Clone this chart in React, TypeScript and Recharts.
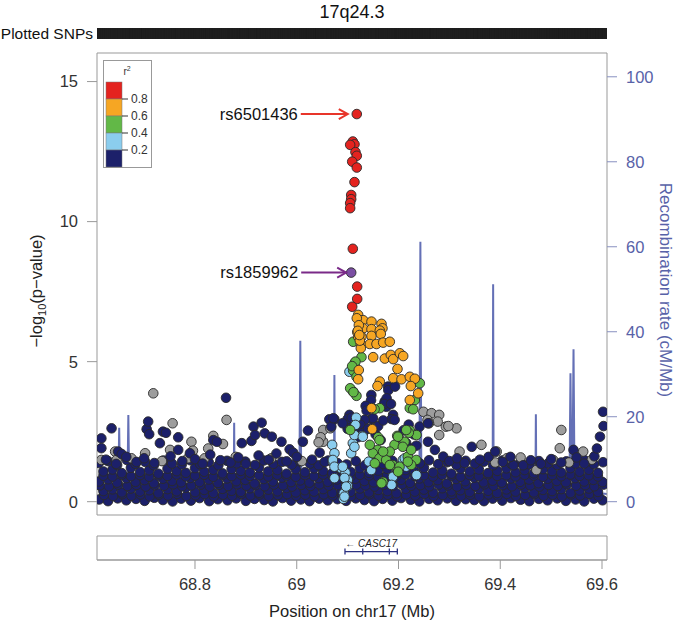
import { ComposedChart, Scatter, Line, XAxis, YAxis, ReferenceLine, ReferenceArea } from "recharts";

const FONT = "'Liberation Sans', Arial, Helvetica, sans-serif";

// axis ranges (Mb, -log10 p, cM/Mb)
const X_MIN = 68.6074;
const X_MAX = 69.6098;
const P_MIN = -0.475;
const P_MAX = 16.02;
const R_MIN = -3.13;
const R_MAX = 105.6;

const xTicks = [68.8, 69, 69.2, 69.4, 69.6];
const pTicks = [0, 5, 10, 15];
const rTicks = [0, 20, 40, 60, 80, 100];
const r2Labels = ["0.8", "0.6", "0.4", "0.2"];
const r2Colors = ["#e4231f", "#f6a623", "#62b847", "#8bcdee", "#1c206a"];

// [position Mb, -log10 p] - the dense low-significance mass
const navyBand: [number, number][] = [
  [68.612, 0.08], [68.629, 0.02], [68.648, 0.12], [68.665, 0.05], [68.684, 0.1], [68.701, 0.03], [68.72, 0.14], [68.737, 0.06],
  [68.756, 0.01], [68.773, 0.11], [68.792, 0.04], [68.809, 0.13], [68.828, 0.02], [68.845, 0.09], [68.864, 0.05], [68.881, 0.12],
  [68.9, 0.03], [68.917, 0.1], [68.936, 0.06], [68.953, 0.01], [68.972, 0.13], [68.989, 0.04], [69.008, 0.08], [69.025, 0.02],
  [69.044, 0.11], [69.061, 0.05], [69.08, 0.09], [69.097, 0.03], [69.116, 0.12], [69.133, 0.06], [69.152, 0.02], [69.169, 0.1],
  [69.188, 0.04], [69.205, 0.13], [69.224, 0.07], [69.241, 0.01], [69.26, 0.1], [69.277, 0.05], [69.296, 0.12], [69.313, 0.03],
  [69.332, 0.09], [69.349, 0.06], [69.368, 0.02], [69.385, 0.11], [69.404, 0.04], [69.421, 0.13], [69.44, 0.07], [69.457, 0.02],
  [69.476, 0.1], [69.493, 0.05], [69.512, 0.12], [69.529, 0.03], [69.548, 0.08], [69.565, 0.01], [69.584, 0.11], [69.601, 0.05],
  [68.621, 0.24], [68.639, 0.2], [68.657, 0.27], [68.675, 0.21], [68.693, 0.26], [68.711, 0.19], [68.729, 0.25], [68.747, 0.22],
  [68.765, 0.28], [68.783, 0.2], [68.801, 0.23], [68.819, 0.27], [68.837, 0.19], [68.855, 0.25], [68.873, 0.21], [68.891, 0.28],
  [68.909, 0.22], [68.927, 0.26], [68.945, 0.2], [68.963, 0.24], [68.981, 0.27], [68.999, 0.21], [69.017, 0.25], [69.035, 0.19],
  [69.053, 0.26], [69.071, 0.22], [69.089, 0.28], [69.107, 0.2], [69.125, 0.24], [69.143, 0.27], [69.161, 0.21], [69.179, 0.25],
  [69.197, 0.19], [69.215, 0.26], [69.233, 0.22], [69.251, 0.28], [69.269, 0.2], [69.287, 0.24], [69.305, 0.27], [69.323, 0.21],
  [69.341, 0.25], [69.359, 0.19], [69.377, 0.26], [69.395, 0.22], [69.413, 0.28], [69.431, 0.2], [69.449, 0.24], [69.467, 0.27],
  [69.485, 0.21], [69.503, 0.25], [69.521, 0.19], [69.539, 0.26], [69.557, 0.22], [69.575, 0.28], [69.593, 0.2],
  [68.62, 0.38], [68.638, 0.44], [68.656, 0.33], [68.674, 0.47], [68.692, 0.36], [68.71, 0.41], [68.728, 0.3], [68.746, 0.45],
  [68.764, 0.37], [68.782, 0.5], [68.8, 0.34], [68.818, 0.42], [68.836, 0.31], [68.854, 0.46], [68.872, 0.39], [68.89, 0.35],
  [68.908, 0.48], [68.926, 0.32], [68.944, 0.43], [68.962, 0.37], [68.98, 0.49], [68.998, 0.33], [69.016, 0.41], [69.034, 0.36],
  [69.052, 0.45], [69.07, 0.31], [69.088, 0.4], [69.106, 0.35], [69.124, 0.47], [69.142, 0.33], [69.16, 0.42], [69.178, 0.38],
  [69.196, 0.3], [69.214, 0.46], [69.232, 0.36], [69.25, 0.43], [69.268, 0.32], [69.286, 0.48], [69.304, 0.37], [69.322, 0.41],
  [69.34, 0.34], [69.358, 0.46], [69.376, 0.39], [69.394, 0.31], [69.412, 0.44], [69.43, 0.36], [69.448, 0.49], [69.466, 0.33],
  [69.484, 0.42], [69.502, 0.38], [69.52, 0.45], [69.538, 0.31], [69.556, 0.4], [69.574, 0.47], [69.592, 0.35],
  [68.613, 0.58], [68.631, 0.55], [68.649, 0.61], [68.667, 0.56], [68.685, 0.6], [68.703, 0.54], [68.721, 0.59], [68.739, 0.57],
  [68.757, 0.62], [68.775, 0.55], [68.793, 0.58], [68.811, 0.61], [68.829, 0.54], [68.847, 0.6], [68.865, 0.56], [68.883, 0.62],
  [68.901, 0.57], [68.919, 0.59], [68.937, 0.55], [68.955, 0.61], [68.973, 0.58], [68.991, 0.54], [69.009, 0.6], [69.027, 0.56],
  [69.045, 0.62], [69.063, 0.57], [69.081, 0.59], [69.099, 0.55], [69.117, 0.61], [69.135, 0.58], [69.153, 0.54], [69.171, 0.6],
  [69.189, 0.56], [69.207, 0.62], [69.225, 0.57], [69.243, 0.59], [69.261, 0.55], [69.279, 0.61], [69.297, 0.58], [69.315, 0.54],
  [69.333, 0.6], [69.351, 0.56], [69.369, 0.62], [69.387, 0.57], [69.405, 0.59], [69.423, 0.55], [69.441, 0.61], [69.459, 0.58],
  [69.477, 0.54], [69.495, 0.6], [69.513, 0.56], [69.531, 0.62], [69.549, 0.57], [69.567, 0.59], [69.585, 0.55], [69.603, 0.61],
  [68.611, 0.72], [68.629, 0.8], [68.647, 0.68], [68.665, 0.84], [68.683, 0.71], [68.701, 0.77], [68.719, 0.66], [68.737, 0.82],
  [68.755, 0.74], [68.773, 0.69], [68.791, 0.85], [68.809, 0.7], [68.827, 0.79], [68.845, 0.67], [68.863, 0.83], [68.881, 0.73],
  [68.899, 0.78], [68.917, 0.65], [68.935, 0.81], [68.953, 0.72], [68.971, 0.86], [68.989, 0.7], [69.007, 0.76], [69.025, 0.68],
  [69.043, 0.84], [69.061, 0.71], [69.079, 0.79], [69.097, 0.66], [69.115, 0.82], [69.133, 0.74], [69.151, 0.69], [69.169, 0.85],
  [69.187, 0.72], [69.205, 0.78], [69.223, 0.67], [69.241, 0.83], [69.259, 0.7], [69.277, 0.77], [69.295, 0.65], [69.313, 0.81],
  [69.331, 0.73], [69.349, 0.86], [69.367, 0.69], [69.385, 0.75], [69.403, 0.68], [69.421, 0.83], [69.439, 0.71], [69.457, 0.79],
  [69.475, 0.66], [69.493, 0.82], [69.511, 0.74], [69.529, 0.69], [69.547, 0.84], [69.565, 0.72], [69.583, 0.78], [69.601, 0.7],
  [68.62, 0.93], [68.638, 0.9], [68.656, 0.96], [68.674, 0.91], [68.692, 0.95], [68.71, 0.89], [68.728, 0.94], [68.746, 0.92],
  [68.764, 0.97], [68.782, 0.9], [68.8, 0.93], [68.818, 0.96], [68.836, 0.89], [68.854, 0.95], [68.872, 0.91], [68.89, 0.97],
  [68.908, 0.92], [68.926, 0.94], [68.944, 0.9], [68.962, 0.96], [68.98, 0.93], [68.998, 0.89], [69.016, 0.95], [69.034, 0.91],
  [69.052, 0.97], [69.07, 0.92], [69.088, 0.94], [69.106, 0.9], [69.124, 0.96], [69.142, 0.93], [69.16, 0.89], [69.178, 0.95],
  [69.196, 0.91], [69.214, 0.97], [69.232, 0.92], [69.25, 0.94], [69.268, 0.9], [69.286, 0.96], [69.304, 0.93], [69.322, 0.89],
  [69.34, 0.95], [69.358, 0.91], [69.376, 0.97], [69.394, 0.92], [69.412, 0.94], [69.43, 0.9], [69.448, 0.96], [69.466, 0.93],
  [69.484, 0.89], [69.502, 0.95], [69.52, 0.91], [69.538, 0.97], [69.556, 0.92], [69.574, 0.94], [69.592, 0.9],
  [68.62, 1.08], [68.638, 1.15], [68.656, 1.02], [68.674, 1.21], [68.692, 1.06], [68.71, 1.12], [68.728, 1.0], [68.746, 1.18],
  [68.764, 1.09], [68.782, 1.03], [68.8, 1.2], [68.818, 1.07], [68.836, 1.14], [68.854, 1.01], [68.872, 1.17], [68.89, 1.1],
  [68.908, 1.04], [68.926, 1.22], [68.944, 1.08], [68.962, 1.13], [68.98, 1.0], [68.998, 1.16], [69.016, 1.05], [69.034, 1.19],
  [69.052, 1.09], [69.07, 1.02], [69.088, 1.14], [69.106, 1.06], [69.124, 1.2], [69.142, 1.03], [69.16, 1.11], [69.178, 1.17],
  [69.196, 1.01], [69.214, 1.13], [69.232, 1.07], [69.25, 1.21], [69.268, 1.04], [69.286, 1.12], [69.304, 1.0], [69.322, 1.18],
  [69.34, 1.08], [69.358, 1.15], [69.376, 1.02], [69.394, 1.1], [69.412, 1.19], [69.43, 1.05], [69.448, 1.13], [69.466, 1.01],
  [69.484, 1.16], [69.502, 1.09], [69.52, 1.04], [69.538, 1.2], [69.556, 1.07], [69.574, 1.14], [69.592, 1.03],
  [68.611, 1.38], [68.629, 1.45], [68.647, 1.31], [68.666, 1.49], [68.683, 1.35], [68.702, 1.42], [68.719, 1.3], [68.738, 1.47],
  [68.755, 1.36], [68.774, 1.33], [68.791, 1.48], [68.81, 1.34], [68.827, 1.41], [68.846, 1.3], [68.863, 1.46], [68.882, 1.37],
  [68.899, 1.43], [68.918, 1.31], [68.935, 1.47], [68.954, 1.35], [68.971, 1.42], [68.99, 1.32], [69.007, 1.44], [69.026, 1.36],
  [69.043, 1.3], [69.062, 1.47], [69.08, 1.38], [69.098, 1.33], [69.116, 1.45], [69.134, 1.3], [69.152, 1.4], [69.17, 1.35],
  [69.188, 1.46], [69.206, 1.32], [69.224, 1.43], [69.242, 1.37], [69.26, 1.48], [69.278, 1.34], [69.296, 1.41], [69.314, 1.31],
  [69.332, 1.46], [69.35, 1.36], [69.368, 1.43], [69.386, 1.3], [69.404, 1.47], [69.422, 1.35], [69.44, 1.42], [69.458, 1.33],
  [69.476, 1.45], [69.494, 1.37], [69.512, 1.31], [69.53, 1.44], [69.548, 1.36], [69.566, 1.48], [69.584, 1.34], [69.602, 1.41],
];

const greyPts: [number, number][] = [
  [68.718, 3.87], [68.862, 2.92], [68.756, 2.8], [69.052, 2.56], [69.066, 2.62], [69.052, 2.14], [68.836, 2.35], [68.855, 2.06],
  [68.793, 2.14], [68.796, 1.82], [68.786, 1.55], [68.751, 1.85], [68.702, 1.73], [68.819, 1.55], [68.643, 1.79], [68.616, 1.49],
  [68.646, 1.49], [68.826, 1.9], [69.047, 2.3], [69.043, 2.12],
  [68.675, 1.55], [68.735, 1.45], [68.88, 1.6], [68.95, 1.55], [69.01, 1.45],
  [69.249, 3.21], [69.265, 3.16], [69.28, 3.1], [69.257, 2.92], [69.277, 2.86], [69.293, 2.68], [69.314, 2.62], [69.298, 2.7],
  [69.28, 2.38], [69.26, 2.8], [69.363, 2.03], [69.413, 1.55], [69.393, 1.79], [69.52, 2.56], [69.517, 1.91], [69.504, 1.49],
  [69.471, 1.13], [69.32, 1.79], [69.563, 1.79], [69.39, 1.4], [69.44, 1.58], [69.535, 1.4], [69.58, 1.5],
];

const navyPts: [number, number][] = [
  [68.616, 2.26], [68.616, 1.91], [68.636, 2.62], [68.649, 1.79], [68.656, 1.7], [68.705, 2.59], [68.708, 2.86], [68.71, 2.41],
  [68.731, 2.09], [68.737, 2.5], [68.743, 2.46], [68.767, 2.3], [68.767, 1.85], [68.79, 1.73], [68.836, 2.2], [68.843, 2.14],
  [68.861, 3.71], [68.892, 2.09], [68.911, 2.17], [68.915, 2.68], [68.918, 2.38], [68.931, 2.82], [68.937, 2.44], [68.951, 2.32],
  [68.97, 2.14], [68.986, 1.87], [68.993, 1.75], [69.012, 2.14], [69.022, 2.54], [69.064, 2.94], [69.074, 2.94], [69.068, 2.68],
  [69.072, 2.98],
  [68.625, 1.5], [68.645, 1.35], [68.665, 1.6], [68.685, 1.42], [68.7, 1.55], [68.72, 1.38], [68.752, 1.62], [68.775, 1.45],
  [68.8, 1.52], [68.815, 1.36], [68.83, 1.68], [68.85, 1.48], [68.87, 1.4], [68.885, 1.58], [68.9, 1.35], [68.925, 1.65],
  [68.945, 1.5], [68.96, 1.72], [68.98, 1.44], [69.0, 1.6], [69.03, 1.5], [69.045, 1.75], [69.055, 1.42],
  [69.1036, 3.1], [69.1794, 4.11], [69.18, 3.98], [69.1932, 4.11], [69.1466, 3.81], [69.146, 3.62], [69.1727, 3.57], [69.1761, 3.39],
  [69.1767, 3.69], [69.172, 3.49], [69.1852, 3.49], [69.1893, 3.1], [69.1864, 2.95], [69.1924, 2.92], [69.1354, 3.42], [69.1373, 3.25],
  [69.1466, 2.94], [69.15, 2.98], [69.1334, 2.92], [69.1138, 2.56], [69.1, 2.6], [69.105, 2.85], [69.12, 2.3], [69.125, 2.75],
  [69.13, 2.45], [69.14, 2.6], [69.155, 2.4], [69.16, 2.7], [69.165, 2.2], [69.17, 2.9], [69.2, 2.3], [69.21, 2.55],
  [69.215, 2.1], [69.22, 2.75], [69.225, 1.9], [69.23, 2.4], [69.235, 2.0], [69.1, 2.95], [69.108, 3.0], [69.09, 2.8],
  [69.2414, 2.68], [69.258, 2.8], [69.258, 2.14], [69.2716, 1.85], [69.288, 1.61], [69.344, 1.96], [69.377, 1.6], [69.39, 1.79],
  [69.426, 1.3], [69.445, 1.3], [69.544, 1.85], [69.596, 2.32], [69.602, 3.21], [69.603, 2.7],
  [69.3, 1.45], [69.315, 1.55], [69.33, 1.38], [69.36, 1.5], [69.405, 1.42], [69.42, 1.6], [69.46, 1.48], [69.48, 1.35],
  [69.5, 1.52], [69.52, 1.4], [69.55, 1.58], [69.565, 1.36], [69.585, 1.62], [69.59, 1.9],
];

const lightBluePts: [number, number][] = [
  [69.1036, 4.64], [69.1168, 3.0], [69.1154, 2.74], [69.1286, 2.35], [69.0696, 2.03], [69.0741, 1.73], [69.0708, 1.43],
  [69.0873, 1.19], [69.0958, 1.04], [69.1003, 0.78], [69.1003, 0.56], [69.0924, 0.3], [69.0918, 0.1], [69.1416, 1.43],
  [69.1464, 1.13], [69.2085, 1.49], [69.2152, 1.25], [69.1891, 0.89], [69.1102, 2.09], [69.107, 1.73], [69.071, 1.49],
  [69.0741, 1.25], [69.0741, 0.84], [69.0904, 1.25], [69.0938, 0.85], [69.097, 0.54], [69.0938, 0.18], [69.1134, 2.38],
  [69.1298, 2.32], [69.1134, 1.96], [69.2354, 0.95], [69.2124, 1.55], [69.1864, 0.6],
];

const greenPts: [number, number][] = [
  [69.1109, 5.71], [69.1272, 5.16], [69.1141, 4.96], [69.1109, 4.68], [69.1174, 4.46], [69.1109, 3.93], [69.1174, 3.78],
  [69.2419, 4.23], [69.2321, 3.63], [69.2222, 3.34], [69.2289, 3.3], [69.1632, 3.34], [69.153, 3.3], [69.2222, 2.54],
  [69.2354, 2.38], [69.16, 2.3], [69.1154, 5.0], [69.1089, 4.84], [69.105, 4.05], [69.1115, 3.91], [69.105, 2.56],
  [69.1974, 2.35], [69.2202, 2.46], [69.2118, 2.14], [69.1921, 2.03], [69.2085, 1.96], [69.1593, 1.85], [69.1495, 1.73],
  [69.1626, 1.55], [69.1757, 1.49], [69.1888, 1.31], [69.202, 1.25], [69.2183, 1.61], [69.2347, 1.49], [69.2249, 1.31],
  [69.1993, 1.07], [69.1698, 0.71], [69.1436, 2.03], [69.1534, 1.37], [69.1829, 1.79], [69.1626, 2.2], [69.199, 2.32],
  [69.2152, 2.56], [69.2249, 1.85], [69.1698, 1.79], [69.1829, 1.31], [69.2183, 1.43], [69.1665, 0.66],
];

const orangePts: [number, number][] = [
  [69.1207, 6.67], [69.1239, 6.48], [69.1306, 6.48], [69.1469, 6.43], [69.1666, 6.35], [69.1685, 6.19], [69.1306, 6.19],
  [69.1469, 6.16], [69.1632, 6.11], [69.1207, 5.89], [69.1272, 5.89], [69.1469, 5.92], [69.1652, 5.99], [69.1259, 5.63],
  [69.1436, 5.63], [69.1567, 5.63], [69.1699, 5.68], [69.1829, 5.71], [69.1259, 5.48], [69.1502, 5.16], [69.1731, 5.11],
  [69.1849, 5.24], [69.1896, 5.09], [69.2026, 5.3], [69.2092, 5.2], [69.1219, 4.7], [69.198, 4.74], [69.1207, 4.37],
  [69.1632, 4.29], [69.1587, 4.13], [69.1896, 4.41], [69.2059, 4.37], [69.2222, 4.46], [69.2321, 4.39], [69.2242, 4.13],
  [69.2387, 3.87], [69.2222, 3.63], [69.1469, 3.34], [69.1483, 2.59], [69.118, 6.55], [69.122, 6.3], [69.119, 6.05],
  [69.124, 5.75], [69.12, 6.1], [69.123, 5.95],
];

const redPts: [number, number][] = [
  [69.118, 13.84], [69.1102, 12.86], [69.1135, 12.76], [69.105, 12.74], [69.1154, 12.48], [69.118, 12.35], [69.109, 12.14],
  [69.118, 11.93], [69.1135, 11.41], [69.107, 10.95], [69.107, 10.8], [69.105, 10.66], [69.105, 10.48], [69.1102, 9.03],
  [69.1188, 7.68], [69.1188, 7.24], [69.109, 6.96],
];

const leadPts: [number, number][] = [[69.107, 8.18]];

const labelled = [
  { name: "rs6501436", pos: 69.118, logp: 13.84 },
  { name: "rs1859962", pos: 69.107, logp: 8.18 },
];
const labelStyle: Record<string, { color: string; from: number; to: number }> = {
  rs6501436: { color: "#e8352a", from: 56, to: 9 },
  rs1859962: { color: "#7a2a88", from: 50, to: 5 },
};

// recombination rate, [position Mb, cM/Mb]
const recomb: [number, number][] = [
  [68.6074, 1.2], [68.63, 2.1], [68.649, 1.5], [68.651, 17.4], [68.653, 1.8], [68.667, 2.0], [68.669, 20.4], [68.671, 1.6],
  [68.7, 1.1], [68.79, 0.8], [68.86, 1.5], [68.876, 1.7], [68.877, 18.6], [68.878, 1.5], [68.95, 0.9], [69.005, 2.0],
  [69.007, 37.9], [69.009, 2.2], [69.04, 1.4], [69.073, 2.1], [69.074, 29.8], [69.075, 2.0], [69.12, 0.6], [69.18, 0.8],
  [69.241, 2.5], [69.243, 61.2], [69.245, 2.8], [69.3, 1.5], [69.385, 2.0], [69.386, 51.2], [69.387, 2.2], [69.43, 1.3],
  [69.469, 1.8], [69.47, 20.6], [69.471, 1.5], [69.52, 2.4], [69.536, 3.5], [69.538, 30.2], [69.54, 5.0], [69.542, 8.0],
  [69.544, 35.9], [69.546, 4.0], [69.58, 2.2], [69.6098, 1.8],
];

// gene CASC17
const geneName = "CASC17";
const geneSpan = [69.0948, 69.1977];
const geneExons = [69.0948, 69.1297, 69.182, 69.1977];

const toPts = (a: [number, number][]) => a.map(([pos, logp]) => ({ pos, logp }));
const allSnps = [navyBand, greyPts, navyPts, lightBluePts, greenPts, orangePts, redPts, leadPts].flat();

const dot = (fill: string) => (p: any) =>
  p.cx == null ? <g /> : <circle cx={p.cx} cy={p.cy} r={4.8} fill={fill} stroke="#2a2a2a" strokeWidth={0.9} />;

const annotation = (p: any) => {
  const s = labelStyle[p.payload.name];
  const x1 = p.cx - s.from;
  const x2 = p.cx - s.to;
  return (
    <g>
      <text x={x1 - 3} y={p.cy} dy="0.35em" textAnchor="end" fontSize={16.5} fontFamily={FONT} fill="#111">
        {p.payload.name}
      </text>
      <line x1={x1} y1={p.cy} x2={x2} y2={p.cy} stroke={s.color} strokeWidth={2} />
      <path d={`M${x2 - 9},${p.cy - 5} L${x2},${p.cy} L${x2 - 9},${p.cy + 5}`} fill="none" stroke={s.color} strokeWidth={2} />
    </g>
  );
};

function R2Legend() {
  return (
    <div style={{ position: "absolute", left: 103, top: 60, width: 49, height: 108, border: "1px solid #999", boxSizing: "border-box", background: "#fff" }}>
      <svg width={49} height={108} style={{ position: "absolute", left: -1, top: -1 }}>
        <text x={24} y={15} fontSize={10} fontFamily={FONT} textAnchor="middle" fill="#333">
          r<tspan dy={-4} fontSize={7}>2</tspan>
        </text>
        {r2Colors.map((c, i) => (
          <rect key={c} x={3} y={22 + i * 17} width={16} height={17} fill={c} stroke="#777" strokeWidth={0.5} />
        ))}
        {r2Labels.map((l, i) => (
          <g key={l}>
            <line x1={19} x2={25} y1={39 + i * 17} y2={39 + i * 17} stroke="#333" />
            <text x={28} y={39 + i * 17} dy="0.35em" fontSize={12} fontFamily={FONT} fill="#333">{l}</text>
          </g>
        ))}
      </svg>
    </div>
  );
}

export default function App() {
  const tickStyle = { fill: "#333", fontSize: 16.5, fontFamily: FONT };
  const blue = "#5862a8";
  return (
    <div style={{ position: "absolute", left: 0, top: 0, width: 675, height: 620, background: "#fff", fontFamily: FONT }}>
      <svg width={675} height={620} style={{ position: "absolute", left: 0, top: 0 }}>
        <text x={352} y={18} fontSize={18} textAnchor="middle" fill="#111" fontFamily={FONT}>17q24.3</text>
        <text x={93} y={39} fontSize={15.5} textAnchor="end" fill="#111" fontFamily={FONT}>Plotted SNPs</text>
        <text x={42} y={291} transform="rotate(-90 42 291)" fontSize={16.5} textAnchor="middle" fill="#222" fontFamily={FONT}>
          −log<tspan fontSize={11} dy={4}>10</tspan><tspan dy={-4}>(p−value)</tspan>
        </text>
        <text x={660} y={290} transform="rotate(90 660 290)" fontSize={17} textAnchor="middle" fill={blue} fontFamily={FONT}>
          Recombination rate (cM/Mb)
        </text>
        <text x={352} y={617} fontSize={16.5} textAnchor="middle" fill="#222" fontFamily={FONT}>Position on chr17 (Mb)</text>
      </svg>

      <div style={{ position: "absolute", left: 0, top: 28 }}>
        <ComposedChart width={675} height={11} margin={{ top: 0, right: 68, left: 97, bottom: 0 }}>
          <XAxis type="number" dataKey="pos" domain={[X_MIN, X_MAX]} allowDataOverflow hide />
          <YAxis type="number" dataKey="y" domain={[0, 1]} hide />
          <ReferenceArea x1={X_MIN} x2={X_MAX} y1={0} y2={1} fill="#1e1e1e" fillOpacity={1} stroke="none" />
          <Scatter
            data={allSnps.map(([pos]) => ({ pos, y: 0.5 }))}
            dataKey="y"
            isAnimationActive={false}
            shape={(p: any) => <rect x={p.cx - 1} y={0} width={2} height={11} fill="#1e1e1e" />}
          />
        </ComposedChart>
      </div>

      <div style={{ position: "absolute", left: 0, top: 0 }}>
        <ComposedChart width={675} height={530} margin={{ top: 53, right: 0, left: 0, bottom: 15 }}>
          <XAxis type="number" dataKey="pos" domain={[X_MIN, X_MAX]} allowDataOverflow hide />
          <YAxis
            yAxisId="p"
            type="number"
            dataKey="logp"
            width={97}
            domain={[P_MIN, P_MAX]}
            allowDataOverflow
            ticks={pTicks}
            tickSize={10}
            tickMargin={9}
            tick={tickStyle}
            axisLine={{ stroke: "#999" }}
            tickLine={{ stroke: "#999" }}
          />
          <YAxis
            yAxisId="r"
            orientation="right"
            type="number"
            width={68}
            domain={[R_MIN, R_MAX]}
            allowDataOverflow
            ticks={rTicks}
            tickSize={10}
            tickMargin={9}
            tick={{ ...tickStyle, fill: blue }}
            axisLine={{ stroke: "#999" }}
            tickLine={{ stroke: "#8890c0" }}
          />
          <ReferenceLine yAxisId="p" y={P_MAX} stroke="#999" />
          <ReferenceLine yAxisId="p" y={P_MIN} stroke="#999" />
          <Line
            yAxisId="r"
            data={recomb.map(([pos, rate]) => ({ pos, rate }))}
            dataKey="rate"
            type="linear"
            stroke="#6470b6"
            strokeWidth={2}
            dot={false}
            isAnimationActive={false}
          />
          <Scatter yAxisId="p" data={toPts(navyBand)} dataKey="logp" shape={dot(r2Colors[4])} isAnimationActive={false} />
          <Scatter yAxisId="p" data={toPts(greyPts)} dataKey="logp" shape={dot("#9d9d9d")} isAnimationActive={false} />
          <Scatter yAxisId="p" data={toPts(navyPts)} dataKey="logp" shape={dot(r2Colors[4])} isAnimationActive={false} />
          <Scatter yAxisId="p" data={toPts(lightBluePts)} dataKey="logp" shape={dot(r2Colors[3])} isAnimationActive={false} />
          <Scatter yAxisId="p" data={toPts(greenPts)} dataKey="logp" shape={dot(r2Colors[2])} isAnimationActive={false} />
          <Scatter yAxisId="p" data={toPts(orangePts)} dataKey="logp" shape={dot(r2Colors[1])} isAnimationActive={false} />
          <Scatter yAxisId="p" data={toPts(redPts)} dataKey="logp" shape={dot(r2Colors[0])} isAnimationActive={false} />
          <Scatter yAxisId="p" data={toPts(leadPts)} dataKey="logp" shape={dot("#7b4fa3")} isAnimationActive={false} />
          <Scatter yAxisId="p" data={labelled} dataKey="logp" shape={annotation} isAnimationActive={false} />
        </ComposedChart>
      </div>

      <div style={{ position: "absolute", left: 0, top: 530 }}>
        <ComposedChart width={675} height={90} margin={{ top: 6, right: 68, left: 97, bottom: 0 }}>
          <XAxis
            type="number"
            dataKey="pos"
            domain={[X_MIN, X_MAX]}
            allowDataOverflow
            ticks={xTicks}
            tickFormatter={(v: number) => String(v)}
            height={60}
            tickSize={9}
            tickMargin={9}
            tick={tickStyle}
            axisLine={{ stroke: "#999" }}
            tickLine={{ stroke: "#999" }}
          />
          <YAxis yAxisId="g" type="number" dataKey="y" domain={[0, 1]} hide />
          <ReferenceArea yAxisId="g" x1={X_MIN} x2={X_MAX} y1={0} y2={1} fill="none" stroke="#999" strokeWidth={1} />
          <Line
            yAxisId="g"
            data={geneSpan.map((pos) => ({ pos, y: 0.35 }))}
            dataKey="y"
            stroke="#2b3080"
            strokeWidth={1.2}
            dot={false}
            isAnimationActive={false}
          />
          <Scatter
            yAxisId="g"
            data={geneExons.map((pos) => ({ pos, y: 0.35 }))}
            dataKey="y"
            isAnimationActive={false}
            shape={(p: any) => <line x1={p.cx} x2={p.cx} y1={p.cy - 3} y2={p.cy + 3} stroke="#2b3080" strokeWidth={1.3} />}
          />
          <Scatter
            yAxisId="g"
            data={[{ pos: (geneSpan[0] + geneSpan[1]) / 2, y: 0.68, name: geneName }]}
            dataKey="y"
            isAnimationActive={false}
            shape={(p: any) => (
              <text x={p.cx} y={p.cy} dy="0.35em" textAnchor="middle" fontSize={10} fontFamily={FONT} fill="#222">
                ← <tspan fontStyle="italic">{p.payload.name}</tspan>
              </text>
            )}
          />
        </ComposedChart>
      </div>

      <R2Legend />
    </div>
  );
}
